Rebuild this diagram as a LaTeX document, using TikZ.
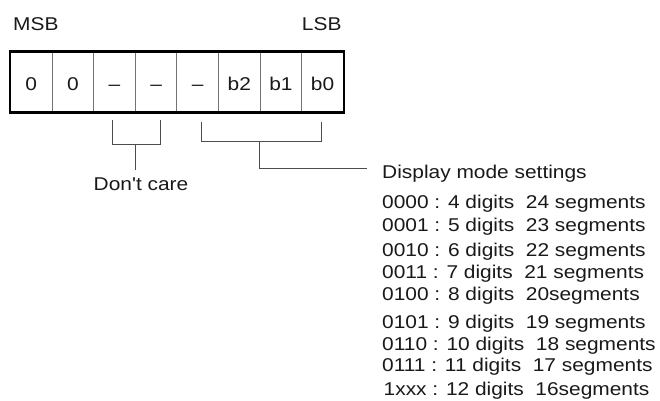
\documentclass[tikz,border=0pt]{standalone}
\usepackage{fontspec}
\newfontfamily\lab[FakeStretch=1.13]{Liberation Sans}
\begin{document}
\begin{tikzpicture}[x=1pt,y=-1pt,
  txt/.style={font=\lab\fontsize{18.5}{22}\selectfont, inner sep=0pt, text=black!90},
  cell/.style={txt, draw=black!55, line width=0.9pt, minimum width=41.6pt, minimum height=60pt,
     text height=16pt, text depth=0pt, anchor=center},
  brk/.style={draw=black!70, line width=1pt},
  outer/.style={draw=black, line width=2.4pt}]
\useasboundingbox (0,0) rectangle (660,400);
% register cells
\foreach \t [count=\i from 0] in {0,0,\textendash,\textendash,\textendash,b2,b1,b0}{
  \node[cell] (c\i) at ({10.5+20.8+41.6*\i},82) {\t};
}
\draw[outer] (c0.north west) rectangle (c7.south east);
% MSB / LSB
\node[txt, anchor=base west] (msb) at (13,30) {MSB};
\node[txt, anchor=base east] (lsb) at (341.7,30) {LSB};
% Don't care bracket
\coordinate (dcL) at (112.7,119.5);
\coordinate (dcR) at (160,119.5);
\coordinate (dcM) at (135.7,144);
\coordinate (dcE) at (135.7,170);
\draw[brk] (dcL) -- (dcL |- dcM) -- (dcR |- dcM) -- (dcR);
\draw[brk] (dcM) -- (dcE);
\node[txt, anchor=base] (dc) at (141,190) {Don't care};
% display mode bracket
\coordinate (dmL) at (201,121.5);
\coordinate (dmR) at (321,121.5);
\coordinate (dmM) at (259,141.5);
\coordinate (dmE) at (367,168);
\draw[brk] (dmL) -- (dmL |- dmM) -- (dmR |- dmM) -- (dmR);
\draw[brk] (dmM) |- (dmE);
\node[txt, anchor=base west] (dm) at (382,178) {Display mode settings};
% list
\node[txt, anchor=base west] (l0) at (382,208.3) {0000 : 4 digits\ \ 24 segments};
\node[txt, anchor=base west] (l1) at (382,231.7) {0001 : 5 digits\ \ 23 segments};
\node[txt, anchor=base west] (l2) at (382,256.7) {0010 : 6 digits\ \ 22 segments};
\node[txt, anchor=base west] (l3) at (382,278.3) {0011 : 7 digits\ \ 21 segments};
\node[txt, anchor=base west] (l4) at (382,300) {0100 : 8 digits\ \ 20segments};
\node[txt, anchor=base west] (l5) at (382,328.3) {0101 : 9 digits\ \ 19 segments};
\node[txt, anchor=base west] (l6) at (382,350) {0110 : 10 digits\ \ 18 segments};
\node[txt, anchor=base west] (l7) at (382,371) {0111 : 11 digits\ \ 17 segments};
\node[txt, anchor=base west] (l8) at (383.5,395) {1xxx : 12 digits\ \ 16segments};
\end{tikzpicture}
\end{document}
